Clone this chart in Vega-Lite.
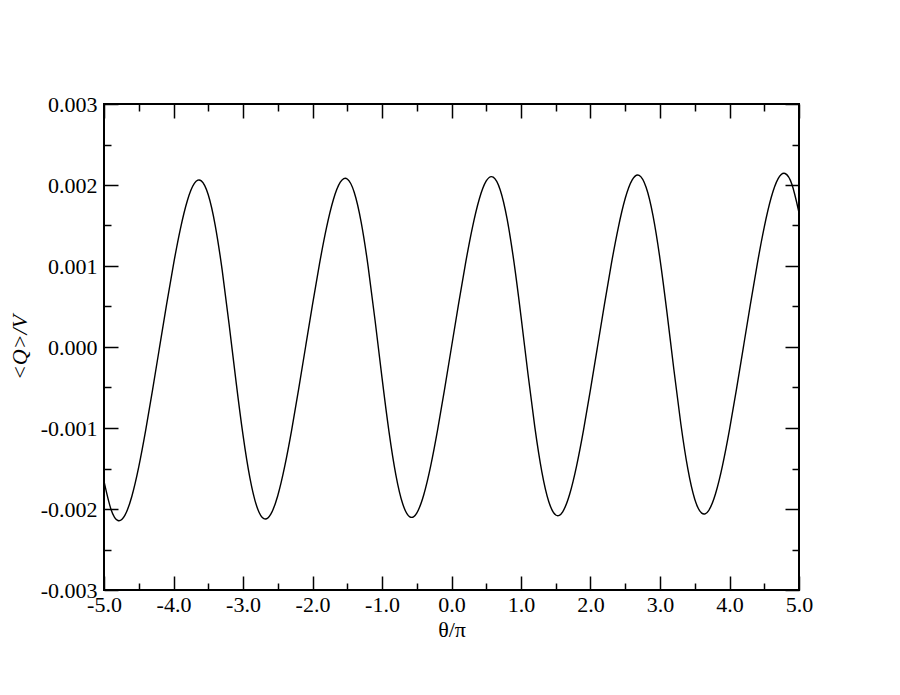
{
  "$schema": "https://vega.github.io/schema/vega-lite/v6.json",
  "width": 695,
  "height": 486,
  "autosize": {"type": "none"},
  "padding": {"left": 104, "top": 104, "right": 101, "bottom": 105},
  "background": "white",
  "config": {
    "view": {"stroke": "black", "strokeWidth": 2},
    "axis": {
      "grid": false,
      "domain": false,
      "labelFont": "Liberation Serif",
      "titleFont": "Liberation Serif",
      "labelFontSize": 22,
      "titleFontSize": 22,
      "labelColor": "black",
      "titleColor": "black",
      "titleFontWeight": "normal",
      "tickColor": "black",
      "tickWidth": 1.5
    }
  },
  "data": {
    "values": [
      {"theta": -5.0, "q": -0.001659}, {"theta": -4.9, "q": -0.002003}, {"theta": -4.8, "q": -0.002142},
      {"theta": -4.7, "q": -0.002079}, {"theta": -4.6, "q": -0.001845}, {"theta": -4.5, "q": -0.001480},
      {"theta": -4.4, "q": -0.001027}, {"theta": -4.3, "q": -0.000524}, {"theta": -4.2, "q": 0.000001},
      {"theta": -4.1, "q": 0.000524}, {"theta": -4.0, "q": 0.001021}, {"theta": -3.9, "q": 0.001462},
      {"theta": -3.8, "q": 0.001809}, {"theta": -3.7, "q": 0.002019}, {"theta": -3.6, "q": 0.002051},
      {"theta": -3.5, "q": 0.001880}, {"theta": -3.4, "q": 0.001503}, {"theta": -3.3, "q": 0.000951},
      {"theta": -3.2, "q": 0.000281}, {"theta": -3.1, "q": -0.000427}, {"theta": -3.0, "q": -0.001086},
      {"theta": -2.9, "q": -0.001620}, {"theta": -2.8, "q": -0.001973}, {"theta": -2.7, "q": -0.002120},
      {"theta": -2.6, "q": -0.002064}, {"theta": -2.5, "q": -0.001836}, {"theta": -2.4, "q": -0.001475},
      {"theta": -2.3, "q": -0.001026}, {"theta": -2.2, "q": -0.000524}, {"theta": -2.1, "q": 0.000000},
      {"theta": -2.0, "q": 0.000524}, {"theta": -1.9, "q": 0.001023}, {"theta": -1.8, "q": 0.001467},
      {"theta": -1.7, "q": 0.001818}, {"theta": -1.6, "q": 0.002034}, {"theta": -1.5, "q": 0.002074},
      {"theta": -1.4, "q": 0.001911}, {"theta": -1.3, "q": 0.001542}, {"theta": -1.2, "q": 0.000996},
      {"theta": -1.1, "q": 0.000330}, {"theta": -1.0, "q": -0.000378}, {"theta": -0.9, "q": -0.001041},
      {"theta": -0.8, "q": -0.001581}, {"theta": -0.7, "q": -0.001942}, {"theta": -0.6, "q": -0.002097},
      {"theta": -0.5, "q": -0.002050}, {"theta": -0.4, "q": -0.001827}, {"theta": -0.3, "q": -0.001471},
      {"theta": -0.2, "q": -0.001024}, {"theta": -0.1, "q": -0.000524}, {"theta": 0.0, "q": 0.000000},
      {"theta": 0.1, "q": 0.000524}, {"theta": 0.2, "q": 0.001024}, {"theta": 0.3, "q": 0.001471},
      {"theta": 0.4, "q": 0.001827}, {"theta": 0.5, "q": 0.002050}, {"theta": 0.6, "q": 0.002097},
      {"theta": 0.7, "q": 0.001942}, {"theta": 0.8, "q": 0.001581}, {"theta": 0.9, "q": 0.001041},
      {"theta": 1.0, "q": 0.000378}, {"theta": 1.1, "q": -0.000330}, {"theta": 1.2, "q": -0.000996},
      {"theta": 1.3, "q": -0.001542}, {"theta": 1.4, "q": -0.001911}, {"theta": 1.5, "q": -0.002074},
      {"theta": 1.6, "q": -0.002034}, {"theta": 1.7, "q": -0.001818}, {"theta": 1.8, "q": -0.001467},
      {"theta": 1.9, "q": -0.001023}, {"theta": 2.0, "q": -0.000524}, {"theta": 2.1, "q": 0.000000},
      {"theta": 2.2, "q": 0.000524}, {"theta": 2.3, "q": 0.001026}, {"theta": 2.4, "q": 0.001475},
      {"theta": 2.5, "q": 0.001836}, {"theta": 2.6, "q": 0.002064}, {"theta": 2.7, "q": 0.002120},
      {"theta": 2.8, "q": 0.001973}, {"theta": 2.9, "q": 0.001620}, {"theta": 3.0, "q": 0.001086},
      {"theta": 3.1, "q": 0.000427}, {"theta": 3.2, "q": -0.000281}, {"theta": 3.3, "q": -0.000951},
      {"theta": 3.4, "q": -0.001503}, {"theta": 3.5, "q": -0.001880}, {"theta": 3.6, "q": -0.002051},
      {"theta": 3.7, "q": -0.002019}, {"theta": 3.8, "q": -0.001809}, {"theta": 3.9, "q": -0.001462},
      {"theta": 4.0, "q": -0.001021}, {"theta": 4.1, "q": -0.000524}, {"theta": 4.2, "q": -0.000001},
      {"theta": 4.3, "q": 0.000524}, {"theta": 4.4, "q": 0.001027}, {"theta": 4.5, "q": 0.001480},
      {"theta": 4.6, "q": 0.001845}, {"theta": 4.7, "q": 0.002079}, {"theta": 4.8, "q": 0.002142},
      {"theta": 4.9, "q": 0.002003}, {"theta": 5.0, "q": 0.001659}
    ]
  },
  "layer": [
    {
      "mark": {"type": "line", "color": "black", "strokeWidth": 1.4, "interpolate": "natural", "clip": true},
      "encoding": {
        "x": {
          "field": "theta", "type": "quantitative",
          "scale": {"domain": [-5, 5], "nice": false, "zero": false},
          "axis": {
            "orient": "bottom", "ticks": false, "labelPadding": 4,
            "values": [-5, -4, -3, -2, -1, 0, 1, 2, 3, 4, 5],
            "labelExpr": "(datum.value < 0 ? '-' : '') + format(abs(datum.value), '.1f')",
            "title": "θ/π", "titlePadding": 4, "labelFlush": false
          }
        },
        "y": {
          "field": "q", "type": "quantitative",
          "scale": {"domain": [-0.003, 0.003], "nice": false, "zero": false},
          "axis": {
            "orient": "left", "ticks": false, "labelPadding": 7,
            "values": [-0.003, -0.002, -0.001, 0, 0.001, 0.002, 0.003],
            "labelExpr": "(datum.value < -0.0000001 ? '-' : '') + format(abs(datum.value), '.3f')",
            "title": "<Q>/V", "titleFontStyle": "italic", "titlePadding": 9, "labelFlush": false
          }
        }
      }
    },
    {
      "mark": {"type": "line", "opacity": 0},
      "encoding": {
        "x": {"field": "theta", "type": "quantitative", "scale": {"domain": [-5, 5], "nice": false, "zero": false},
          "axis": {"orient": "bottom", "labels": false, "tickSize": -14, "title": null, "values": [-5, -4, -3, -2, -1, 0, 1, 2, 3, 4, 5]}},
        "y": {"field": "q", "type": "quantitative", "scale": {"domain": [-0.003, 0.003], "nice": false, "zero": false},
          "axis": {"orient": "left", "labels": false, "tickSize": -14, "title": null, "values": [-0.003, -0.002, -0.001, 0, 0.001, 0.002, 0.003]}}
      }
    },
    {
      "mark": {"type": "line", "opacity": 0},
      "encoding": {
        "x": {"field": "theta", "type": "quantitative", "scale": {"domain": [-5, 5], "nice": false, "zero": false},
          "axis": {"orient": "bottom", "labels": false, "tickSize": -7, "title": null, "values": [-4.5, -3.5, -2.5, -1.5, -0.5, 0.5, 1.5, 2.5, 3.5, 4.5]}},
        "y": {"field": "q", "type": "quantitative", "scale": {"domain": [-0.003, 0.003], "nice": false, "zero": false},
          "axis": {"orient": "left", "labels": false, "tickSize": -7, "title": null, "values": [-0.0025, -0.0015, -0.0005, 0.0005, 0.0015, 0.0025]}}
      }
    },
    {
      "mark": {"type": "line", "opacity": 0},
      "encoding": {
        "x": {"field": "theta", "type": "quantitative", "scale": {"domain": [-5, 5], "nice": false, "zero": false},
          "axis": {"orient": "top", "labels": false, "tickSize": -14, "title": null, "values": [-5, -4, -3, -2, -1, 0, 1, 2, 3, 4, 5]}},
        "y": {"field": "q", "type": "quantitative", "scale": {"domain": [-0.003, 0.003], "nice": false, "zero": false},
          "axis": {"orient": "right", "labels": false, "tickSize": -14, "title": null, "values": [-0.003, -0.002, -0.001, 0, 0.001, 0.002, 0.003]}}
      }
    },
    {
      "mark": {"type": "line", "opacity": 0},
      "encoding": {
        "x": {"field": "theta", "type": "quantitative", "scale": {"domain": [-5, 5], "nice": false, "zero": false},
          "axis": {"orient": "top", "labels": false, "tickSize": -7, "title": null, "values": [-4.5, -3.5, -2.5, -1.5, -0.5, 0.5, 1.5, 2.5, 3.5, 4.5]}},
        "y": {"field": "q", "type": "quantitative", "scale": {"domain": [-0.003, 0.003], "nice": false, "zero": false},
          "axis": {"orient": "right", "labels": false, "tickSize": -7, "title": null, "values": [-0.0025, -0.0015, -0.0005, 0.0005, 0.0015, 0.0025]}}
      }
    }
  ],
  "resolve": {"axis": {"x": "independent", "y": "independent"}}
}
